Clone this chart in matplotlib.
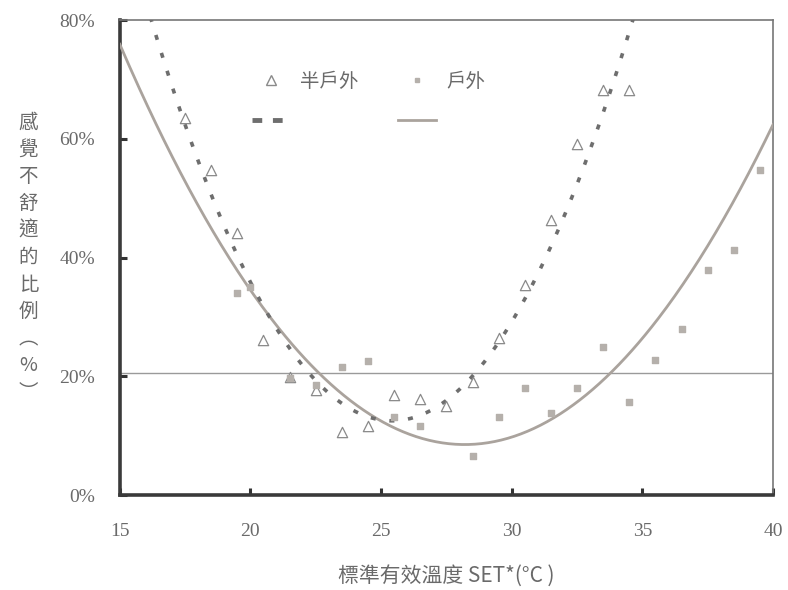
import numpy as np
import matplotlib.pyplot as plt
from matplotlib.lines import Line2D

# 半戶外 (triangles)
semi_x = [17.5, 18.5, 19.5, 20.5, 21.5, 22.5, 23.5, 24.5, 25.5, 26.5, 27.5,
          28.5, 29.5, 30.5, 31.5, 32.5, 33.5, 34.5]
semi_y = [63.5, 54.7, 44.1, 26.1, 19.9, 17.7, 10.6, 11.6, 16.8, 16.2, 15.0,
          19.0, 26.4, 35.4, 46.3, 59.2, 68.2, 68.2]

# 戶外 (squares)
out_x = [19.5, 20.0, 21.5, 22.5, 23.5, 24.5, 25.5, 26.5, 28.5, 29.5, 30.5,
         31.5, 32.5, 33.5, 34.5, 35.5, 36.5, 37.5, 38.5, 39.5]
out_y = [34.0, 35.0, 19.7, 18.5, 21.5, 22.6, 13.1, 11.6, 6.6, 13.1, 18.0,
         13.8, 18.0, 25.0, 15.7, 22.7, 27.9, 37.9, 41.2, 54.8]

# fitted curves, vertex form y = a*(x-h)^2 + k
semi_fit = (0.795, 25.42, 12.5)
out_fit = (0.387, 28.2, 8.5)
ref_level = 20.5

cjk = ['Noto Sans CJK TC', 'DejaVu Sans']
serif = 'Liberation Serif'
txt_col = '#6a6a6a'

fig = plt.figure(figsize=(7.88, 5.9), dpi=100)
ax = fig.add_axes([0.152, 0.161, 0.829, 0.805])

xs = np.linspace(15, 40, 400)
a, h, k = out_fit
ax.plot(xs, a * (xs - h) ** 2 + k, color='#aaa39d', lw=2.0, zorder=3)
a, h, k = semi_fit
ys = a * (xs - h) ** 2 + k
ax.plot(xs, ys, color='#6e6e6e', lw=2.6, dashes=(1.4, 3.8), zorder=3)

ax.axhline(ref_level, color='#9a9a9a', lw=1.0, zorder=2)

ax.scatter(semi_x, semi_y, marker='^', s=55, facecolors='white',
           edgecolors='#8a8a8a', linewidths=0.9, zorder=4)
ax.scatter(out_x, out_y, marker='s', s=14, color='#b5b0ab', zorder=4)

ax.set_xlim(15, 40)
ax.set_ylim(0, 80)
ax.set_xticks([15, 20, 25, 30, 35, 40])
ax.set_yticks([0, 20, 40, 60, 80])
ax.set_yticklabels(['0%', '20%', '40%', '60%', '80%'])

for lab in ax.get_xticklabels() + ax.get_yticklabels():
    lab.set_fontfamily(serif)
    lab.set_fontsize(14)
    lab.set_color(txt_col)

ax.tick_params(axis='both', direction='in', length=5, width=2.2, color='#333333')
ax.tick_params(axis='x', pad=20)
ax.tick_params(axis='y', pad=18)
ax.tick_params(top=False, right=False)

for side in ['left', 'bottom']:
    ax.spines[side].set_linewidth(2.6)
    ax.spines[side].set_color('#3a3a3a')
for side in ['top', 'right']:
    ax.spines[side].set_linewidth(1.2)
    ax.spines[side].set_color('#777777')

ax.set_xlabel('標準有效溫度 SET*(°C )', family=cjk, fontsize=15, color=txt_col, labelpad=18)
ax.text(-0.14, 0.5, '感\n覺\n不\n舒\n適\n的\n比\n例\n︵\n%\n︶', transform=ax.transAxes,
        family=cjk, fontsize=14, color=txt_col, ha='center', va='center',
        linespacing=1.38)

handles = [
    Line2D([], [], marker='^', ls='none', markerfacecolor='white',
           markeredgecolor='#8a8a8a', markersize=7),
    Line2D([], [], color='#6e6e6e', lw=3.5, dashes=(2, 2.2)),
    Line2D([], [], marker='s', ls='none', color='#b5b0ab', markersize=3.5),
    Line2D([], [], color='#aaa39d', lw=2.0),
]
labels = ['半戶外', ' ', '戶外', ' ']
leg = ax.legend(handles, labels, ncol=2, frameon=False, loc='upper left',
                bbox_to_anchor=(0.175, 0.93), prop={'family': cjk, 'size': 14},
                labelcolor=txt_col, handlelength=2.0, columnspacing=2.0,
                labelspacing=1.0, handletextpad=0.5)

fig.savefig('out.png', dpi=100)
